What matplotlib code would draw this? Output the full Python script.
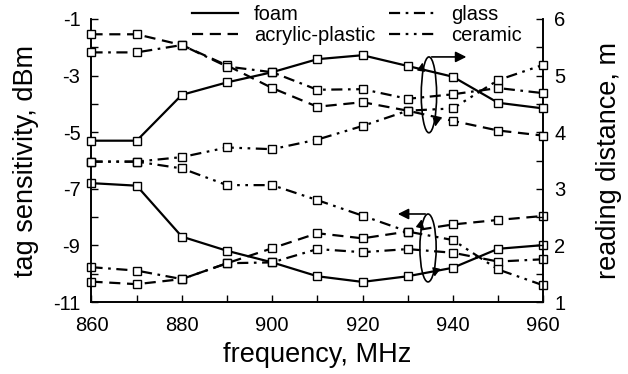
import matplotlib.pyplot as plt
from matplotlib.lines import Line2D
from matplotlib.patches import Ellipse
from matplotlib.ticker import MultipleLocator

plt.rcParams['font.family'] = ['Liberation Sans', 'DejaVu Sans']
plt.rcParams['axes.unicode_minus'] = False

freq = [860, 870, 880, 890, 900, 910, 920, 930, 940, 950, 960]

# reading distance, m (right axis)
dist_foam = [3.85, 3.85, 4.66, 4.88, 5.06, 5.29, 5.36, 5.17, 4.98, 4.52, 4.42]
dist_acrylic = [5.73, 5.73, 5.54, 5.18, 4.78, 4.45, 4.53, 4.38, 4.20, 4.03, 3.94]
dist_glass = [5.41, 5.41, 5.54, 5.16, 5.06, 4.75, 4.76, 4.59, 4.67, 4.78, 4.69]
dist_ceramic = [3.48, 3.48, 3.56, 3.73, 3.70, 3.87, 4.11, 4.38, 4.42, 4.92, 5.19]

# tag sensitivity, dBm (left axis)
sens_foam = [-6.8, -6.89, -8.69, -9.19, -9.6, -10.09, -10.29, -10.09, -9.79, -9.12, -8.99]
sens_acrylic = [-10.28, -10.37, -10.19, -9.63, -9.1, -8.57, -8.75, -8.51, -8.26, -8.1, -7.96]
sens_glass = [-9.77, -9.89, -10.19, -9.63, -9.6, -9.13, -9.24, -9.13, -9.26, -9.57, -9.49]
sens_ceramic = [-6.04, -6.04, -6.28, -6.87, -6.87, -7.4, -7.95, -8.51, -8.81, -9.85, -10.41]

names = ['foam', 'acrylic-plastic', 'glass', 'ceramic']
styles = ['-', (0, (5, 3)), (0, (5, 2.5, 1.2, 2.5)), (0, (5, 2.5, 1.2, 2.5, 1.2, 2.5))]

fig = plt.figure(figsize=(6.28, 3.74), dpi=100)
ax = fig.add_axes([0.1457, 0.1925, 0.7193, 0.7567])
ax2 = ax.twinx()

mk = dict(marker='s', markersize=6, markerfacecolor='white', markeredgecolor='black',
          markeredgewidth=1.0, color='black', linewidth=1.6)

for ys, ls in zip([sens_foam, sens_acrylic, sens_glass, sens_ceramic], styles):
    ax.plot(freq, ys, linestyle=ls, clip_on=False, zorder=3, **mk)
for ys, ls in zip([dist_foam, dist_acrylic, dist_glass, dist_ceramic], styles):
    ax2.plot(freq, ys, linestyle=ls, clip_on=False, zorder=3, **mk)

ax.set_xlim(860, 960)
ax.set_ylim(-11, -1)
ax2.set_ylim(1, 6)

ax.xaxis.set_major_locator(MultipleLocator(20))
ax.xaxis.set_minor_locator(MultipleLocator(10))
ax.set_yticks([-11, -9, -7, -5, -3, -1])
ax.yaxis.set_minor_locator(MultipleLocator(1))
ax2.yaxis.set_major_locator(MultipleLocator(1))
ax2.yaxis.set_minor_locator(MultipleLocator(0.5))

for a in (ax, ax2):
    a.spines['top'].set_visible(False)
    for s in a.spines.values():
        s.set_linewidth(1.2)
    a.tick_params(which='both', direction='in', length=5, width=1.0, labelsize=14.5, pad=8)
ax.tick_params(axis='x', pad=10)

ax.set_xlabel('frequency, MHz', fontsize=19.5, labelpad=5)
ax.set_ylabel('tag sensitivity, dBm', fontsize=19.5, labelpad=10)
ax2.set_ylabel('reading distance, m', fontsize=19.5, labelpad=22)

# ellipse + arrow for right axis group
ax2.add_patch(Ellipse((934.7, 4.66), 3.4, 1.34, fill=False, lw=1.2, zorder=4))
ax2.annotate('', xy=(943.6, 5.33), xytext=(934.7, 5.33),
             arrowprops=dict(arrowstyle='-|>', color='black', lw=1.2, mutation_scale=16))
ax2.annotate('', xy=(933.4, 5.28), xytext=(933.0, 5.1),
             arrowprops=dict(arrowstyle='-|>', color='black', lw=1.0, mutation_scale=12))
ax2.annotate('', xy=(936.0, 4.05), xytext=(936.4, 4.23),
             arrowprops=dict(arrowstyle='-|>', color='black', lw=1.0, mutation_scale=12))

# ellipse + arrow for left axis group
ax.add_patch(Ellipse((934.5, -9.09), 3.6, 2.4, fill=False, lw=1.2, zorder=4))
ax.annotate('', xy=(927.2, -7.89), xytext=(934.5, -7.89),
            arrowprops=dict(arrowstyle='-|>', color='black', lw=1.2, mutation_scale=16))
ax.annotate('', xy=(933.2, -7.98), xytext=(932.8, -8.3),
            arrowprops=dict(arrowstyle='-|>', color='black', lw=1.0, mutation_scale=12))
ax.annotate('', xy=(935.8, -10.2), xytext=(936.2, -9.9),
            arrowprops=dict(arrowstyle='-|>', color='black', lw=1.0, mutation_scale=12))

handles = [Line2D([], [], color='black', linestyle=ls, linewidth=1.6) for ls in styles]
fig.legend(handles, names, loc='upper left', bbox_to_anchor=(0.284, 1.025), ncol=2,
           frameon=False, fontsize=14.5, handlelength=2.25, columnspacing=0.7,
           labelspacing=0.12, handletextpad=0.8, borderpad=0.2)

fig.savefig('out.png', dpi=100)
